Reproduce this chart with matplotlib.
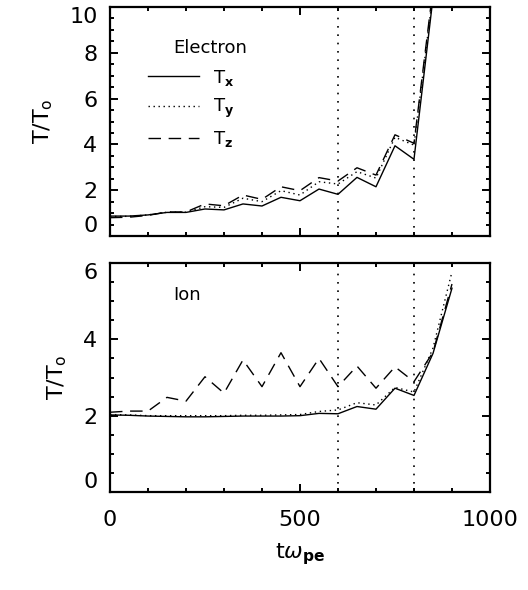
import numpy as np
import matplotlib
matplotlib.use("Agg")
import matplotlib.pyplot as plt
from matplotlib.ticker import MultipleLocator

# time axis (t * omega_pe)
t_e = [0, 50, 100, 150, 200, 250, 300, 350, 400, 450, 500, 550, 600, 650, 700, 750, 800, 850]
t_i = [0, 50, 100, 150, 200, 250, 300, 350, 400, 450, 500, 550, 600, 650, 700, 750, 800, 850, 900]

# electron temperatures T/To
ex = [0.87, 0.87, 0.92, 1.03, 1.03, 1.18, 1.14, 1.40, 1.31, 1.69, 1.54, 2.05, 1.82, 2.56, 2.15, 3.94, 3.35, 10.4]
ey = [0.85, 0.86, 0.92, 1.04, 1.04, 1.28, 1.25, 1.65, 1.50, 1.98, 1.79, 2.37, 2.27, 2.81, 2.53, 4.31, 3.97, 10.6]
ez = [0.80, 0.82, 0.90, 1.05, 1.05, 1.40, 1.32, 1.79, 1.60, 2.15, 1.98, 2.55, 2.40, 2.98, 2.66, 4.42, 4.05, 10.8]

# ion temperatures T/To
ix = [2.02, 2.01, 1.99, 1.98, 1.97, 1.97, 1.98, 1.99, 1.99, 1.99, 2.00, 2.06, 2.05, 2.24, 2.17, 2.72, 2.53, 3.63, 5.34]
iy = [2.03, 2.02, 2.00, 2.00, 2.00, 2.00, 2.00, 2.01, 2.01, 2.02, 2.03, 2.11, 2.15, 2.34, 2.28, 2.74, 2.62, 3.77, 5.77]
iz = [2.09, 2.12, 2.12, 2.48, 2.38, 3.02, 2.59, 3.46, 2.76, 3.65, 2.76, 3.50, 2.76, 3.30, 2.72, 3.28, 2.89, 3.66, 5.45]

marks = [600, 800]

plt.rcParams['font.family'] = 'DejaVu Sans'
plt.rcParams['mathtext.fontset'] = 'dejavusans'

fig = plt.figure(figsize=(5.28, 5.90), dpi=100)
ax1 = fig.add_axes([0.2083, 0.600, 0.7197, 0.3881])
ax2 = fig.add_axes([0.2083, 0.1661, 0.7197, 0.3881])

dot = (0, (1, 2.6))
dash = (0, (9, 5.5))

def style(ax, ymax):
    ax.set_xlim(0, 1000)
    ax.set_ylim(0, ymax)
    ax.xaxis.set_major_locator(MultipleLocator(500))
    ax.xaxis.set_minor_locator(MultipleLocator(100))
    ax.yaxis.set_major_locator(MultipleLocator(2))
    ax.yaxis.set_minor_locator(MultipleLocator(0.5))
    ax.tick_params(which='both', direction='in', top=True, right=True, width=1.4, labelsize=16)
    ax.tick_params(axis='y', pad=9)
    ax.tick_params(axis='x', pad=13)
    ax.tick_params(which='major', length=6)
    ax.tick_params(which='minor', length=3)
    for s in ax.spines.values():
        s.set_linewidth(1.6)
    for m in marks:
        ax.axvline(m, color='black', lw=1.2, linestyle=(0, (1, 4)))
    ax.set_ylabel('T/T$_\\mathrm{o}$', fontsize=16, labelpad=10)

l1, = ax1.plot(t_e, ex, color='black', lw=1.0, label='T$_\\mathbf{x}$')
l2, = ax1.plot(t_e, ey, color='black', lw=1.0, linestyle=dot, label='T$_\\mathbf{y}$')
l3, = ax1.plot(t_e, ez, color='black', lw=1.0, linestyle=dash, label='T$_\\mathbf{z}$')
style(ax1, 10)
ax1.tick_params(labelbottom=False)
ax1.text(0.166, 0.821, 'Electron', transform=ax1.transAxes, fontsize=13, va='center', ha='left')
ax1.legend(handles=[l1, l2, l3], loc='upper left', bbox_to_anchor=(0.1, 0.735),
           frameon=False, fontsize=13, handlelength=2.8, handletextpad=0.8,
           labelspacing=0.5, borderpad=0, borderaxespad=0)

ax2.plot(t_i, ix, color='black', lw=1.0)
ax2.plot(t_i, iy, color='black', lw=1.0, linestyle=dot)
ax2.plot(t_i, iz, color='black', lw=1.0, linestyle=dash)
style(ax2, 6)
ax2.text(0.166, 0.86, 'Ion', transform=ax2.transAxes, fontsize=13, va='center', ha='left')
ax2.set_xlabel('t$\\omega_\\mathbf{pe}$', fontsize=16, labelpad=8)

fig.canvas.draw()
for ax, top in ((ax1, '10'), (ax2, '6')):
    for lab in ax.get_yticklabels():
        if lab.get_text() == '0':
            lab.set_va('bottom')
        elif lab.get_text() == top:
            lab.set_va('top')

fig.savefig('out.png', dpi=100)
